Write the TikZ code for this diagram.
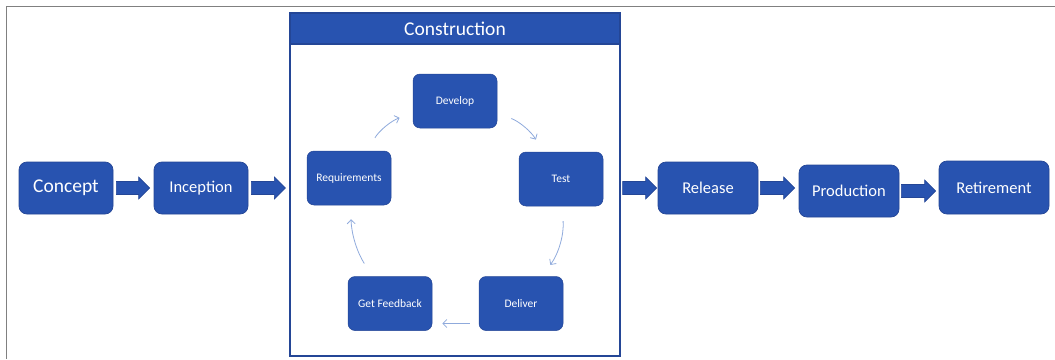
\documentclass[tikz,border=0pt]{standalone}
\usepackage{fontspec}
\setmainfont{Carlito}
\usetikzlibrary{arrows.meta,calc}
\definecolor{boxfill}{RGB}{40,83,176}
\definecolor{boxline}{RGB}{36,70,150}
\definecolor{cycline}{RGB}{143,170,220}
\definecolor{framegray}{RGB}{128,128,128}
\newcommand\barrow[2]{\draw[barrowstyle] let \p1=(#1), \p2=(#2) in
  (\x1,\y1+6.5pt) -- (\x2-11pt,\y1+6.5pt) -- (\x2-11pt,\y1+11pt) -- (\x2,\y1)
  -- (\x2-11pt,\y1-11pt) -- (\x2-11pt,\y1-6.5pt) -- (\x1,\y1-6.5pt) -- cycle;}
\begin{document}
\begin{tikzpicture}[x=1pt,y=-1pt,
  phase/.style={draw=boxline, fill=boxfill, line width=0.7pt, rounded corners=8pt,
    text=white, minimum height=52pt, inner sep=0pt, font=\fontsize{16.5}{18}\selectfont},
  inner/.style={draw=boxline, fill=boxfill, line width=0.5pt, rounded corners=7pt,
    text=white, minimum width=84pt, minimum height=54pt, inner sep=0pt,
    font=\fontsize{11.5}{13}\selectfont},
  cyc/.style={draw=cycline, line width=0.8pt, -{Straight Barb[length=4pt,width=8pt]},
    shorten <=15pt, shorten >=14pt},
  barrowstyle/.style={draw=boxline, fill=boxfill, line width=0.6pt, line join=miter}
]
\useasboundingbox (0,0) rectangle (1055,359);
\draw[framegray, line width=1pt] (1055,6) -- (6,6) -- (6,359);

% outer phases
\node[phase, minimum width=94pt, font=\fontsize{19.5}{22}\selectfont] (concept) at (66,188) {Concept};
\node[phase, minimum width=94pt] (inception) at (201,188) {Inception};
\node[phase, minimum width=100pt] (release) at (708,188) {Release};
\node[phase, minimum width=100pt] (production) at (849,191) {Production};
\node[phase, minimum width=110pt, minimum height=53pt] (retirement) at (994,187.5) {Retirement};

% construction frame
\node[draw=boxline, line width=1.2pt, minimum width=330pt, minimum height=343pt, inner sep=0pt] (construction) at (455,184.5) {};
\node[fill=boxfill, draw=boxline, line width=1.2pt, minimum width=330pt, minimum height=31pt,
  inner sep=0pt, anchor=north, text=white, font=\fontsize{19.5}{22}\selectfont] (header) at (construction.north) {Construction};

% inner cycle
\node[inner] (req) at (349,178) {Requirements};
\node[inner] (dev) at (455,101) {Develop};
\node[inner] (test) at (561,179) {Test};
\node[inner] (deliver) at (521,303.5) {Deliver};
\node[inner] (gf) at (390,303.5) {Get Feedback};

\draw[cyc] (req) to[bend left=20] (dev);
\draw[cyc] (dev) to[bend left=20] (test);
\draw[cyc] (test) to[bend left=20] (deliver);
\draw[cyc, shorten <=9pt, shorten >=10pt] ([yshift=-20pt]deliver.west) -- ([yshift=-20pt]gf.east);
\draw[cyc] (gf) to[bend left=15] (req);

% block arrows
\coordinate (c3) at (construction.east |- release.west);
\barrow{[xshift=3pt]concept.east}{[xshift=-4pt]inception.west}
\barrow{[xshift=3pt]inception.east}{[xshift=-4pt]construction.west}
\barrow{[xshift=2pt]c3}{[xshift=-1pt]release.west}
\barrow{[xshift=2pt]release.east}{[xshift=-4pt]production.west}
\barrow{[xshift=2pt]production.east}{[xshift=-3pt]retirement.west}
\end{tikzpicture}
\end{document}
